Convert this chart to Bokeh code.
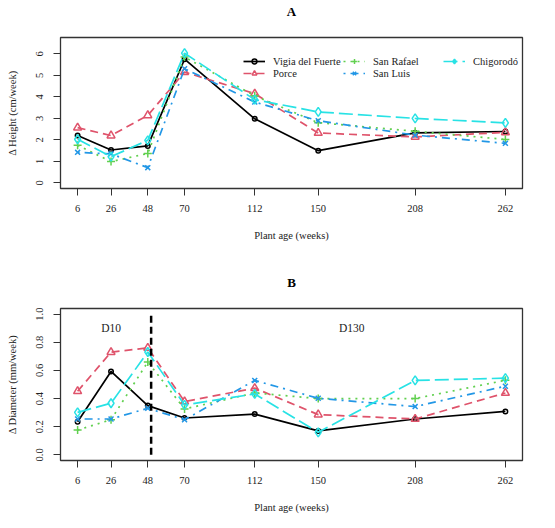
from bokeh.plotting import figure
from bokeh.layouts import column
from bokeh.models import (FixedTicker, Range1d, Legend, LegendItem, Label,
                          NumeralTickFormatter, LinearAxis)
from bokeh.embed import file_html
from bokeh.resources import INLINE

# Plant age at each measurement (weeks)
weeks = [6, 26, 48, 70, 112, 150, 208, 262]
sites = ["Vigia del Fuerte", "Porce", "San Rafael", "San Luis", "Chigorodó"]

# Panel A: height increment (cm/week)
height_vigia = [2.20, 1.53, 1.72, 5.75, 2.98, 1.50, 2.33, 2.39]
height_porce = [2.57, 2.20, 3.14, 5.15, 4.15, 2.32, 2.14, 2.35]
height_san_rafael = [1.75, 0.99, 1.37, 5.85, 4.05, 2.80, 2.40, 2.02]
height_san_luis = [1.42, 1.35, 0.71, 5.31, 3.76, 2.89, 2.22, 1.84]
height_chigorodo = [2.03, 1.22, 1.98, 6.03, 3.87, 3.30, 3.00, 2.79]

# Panel B: diameter increment (mm/week)
diam_vigia = [0.236, 0.593, 0.350, 0.262, 0.290, 0.170, 0.255, 0.309]
diam_porce = [0.452, 0.730, 0.760, 0.379, 0.474, 0.286, 0.255, 0.440]
diam_san_rafael = [0.176, 0.250, 0.660, 0.326, 0.440, 0.400, 0.400, 0.530]
diam_san_luis = [0.255, 0.255, 0.331, 0.250, 0.529, 0.402, 0.343, 0.488]
diam_chigorodo = [0.302, 0.367, 0.731, 0.355, 0.433, 0.160, 0.529, 0.545]

height_ticks = [0, 1, 2, 3, 4, 5, 6]
diam_ticks = [0.0, 0.2, 0.4, 0.6, 0.8, 1.0]

# D10 / D130 split in panel B
stage_break_week = 50
stage_labels = ["D10", "D130"]
stage_label_weeks = [26, 170]
stage_label_y = 0.9

# R-like styling
colors = ["black", "#DF536B", "#61D04F", "#2297E6", "#28E2E5"]
dashes = ["solid", "8 5", "2 5", "2 5 8 5", "14 5"]
markers = ["circle", "triangle", "cross", "x", "diamond"]
sizes = [4.5, 8, 8, 7, 9]

FONT = "Liberation Serif"
INK = "#222222"


def make_panel(title, ylabel, series, y_range, yticks, height, top, bottom, yfmt=None):
    p = figure(
        width=547, height=height,
        x_range=Range1d(-4.24, 272.24), y_range=Range1d(*y_range),
        output_backend="svg", toolbar_location=None, tools="",
        min_border_left=60, min_border_right=25,
        min_border_top=top, min_border_bottom=bottom,
    )

    p.xgrid.grid_line_color = None
    p.ygrid.grid_line_color = None
    p.outline_line_color = "#333333"
    p.outline_line_width = 1.3

    for ax in (p.xaxis[0], p.yaxis[0]):
        ax.axis_line_color = None
        ax.major_tick_in = 0
        ax.major_tick_out = 7
        ax.major_tick_line_color = "#333333"
        ax.minor_tick_line_color = None
        ax.major_label_text_font = FONT
        ax.major_label_text_font_size = "10.5px"
        ax.major_label_text_color = INK
        ax.axis_label_text_font = FONT
        ax.axis_label_text_font_size = "10.5px"
        ax.axis_label_text_font_style = "normal"
        ax.axis_label_text_color = INK

    p.xaxis.ticker = FixedTicker(ticks=weeks)
    p.xaxis.axis_label = "Plant age (weeks)"
    p.xaxis.major_label_standoff = 9
    p.xaxis.axis_label_standoff = 15

    p.yaxis.ticker = FixedTicker(ticks=yticks)
    p.yaxis.axis_label = ylabel
    p.yaxis.major_label_orientation = "vertical"
    p.yaxis.major_label_standoff = 10
    p.yaxis.axis_label_standoff = 16
    if yfmt:
        p.yaxis.formatter = NumeralTickFormatter(format=yfmt)

    # panel letter drawn as the label of a bare axis above the frame
    top_ax = LinearAxis(
        ticker=FixedTicker(ticks=[]), axis_label=title,
        axis_line_color=None, major_tick_line_color=None, minor_tick_line_color=None,
        major_label_text_font_size="0px", axis_label_standoff=19,
        axis_label_text_font=FONT, axis_label_text_font_size="13px",
        axis_label_text_font_style="bold", axis_label_text_color="black",
    )
    p.add_layout(top_ax, "above")

    items = []
    for name, vals, c, d, m, s in zip(sites, series, colors, dashes, markers, sizes):
        ln = p.line(weeks, vals, line_color=c, line_width=1.7, line_dash=d)
        sc = p.scatter(weeks, vals, marker=m, size=s, line_color=c, line_width=1.5,
                       fill_color=None)
        items.append(LegendItem(label=name, renderers=[ln, sc]))
    return p, items


pa, items_a = make_panel(
    "A", "Δ Height (cm/week)",
    [height_vigia, height_porce, height_san_rafael, height_san_luis, height_chigorodo],
    (-0.26, 6.76), height_ticks, 256, 37, 68,
)
legend = Legend(
    items=items_a, location=(183, 109), orientation="vertical", nrows=2,
    glyph_width=22, glyph_height=12, label_height=12, label_width=70,
    label_standoff=8, spacing=0, padding=0,
    border_line_color=None, background_fill_alpha=0,
    label_text_font=FONT, label_text_font_size="10.5px", label_text_color=INK,
)
pa.add_layout(legend)

pb, _ = make_panel(
    "B", "Δ Diameter (mm/week)",
    [diam_vigia, diam_porce, diam_san_rafael, diam_san_luis, diam_chigorodo],
    (-0.04, 1.04), diam_ticks, 264, 52, 60, yfmt="0.0",
)
pb.segment(x0=stage_break_week, y0=0, x1=stage_break_week, y1=1,
           line_color="black", line_width=2.5, line_dash="7 4")
for txt, wk in zip(stage_labels, stage_label_weeks):
    pb.add_layout(Label(x=wk, y=stage_label_y, text=txt, text_align="center",
                        text_baseline="middle", text_font=FONT,
                        text_font_size="11.5px", text_color=INK))

layout = column(pa, pb, spacing=0)
open("out.html", "w").write(file_html(layout, INLINE))
